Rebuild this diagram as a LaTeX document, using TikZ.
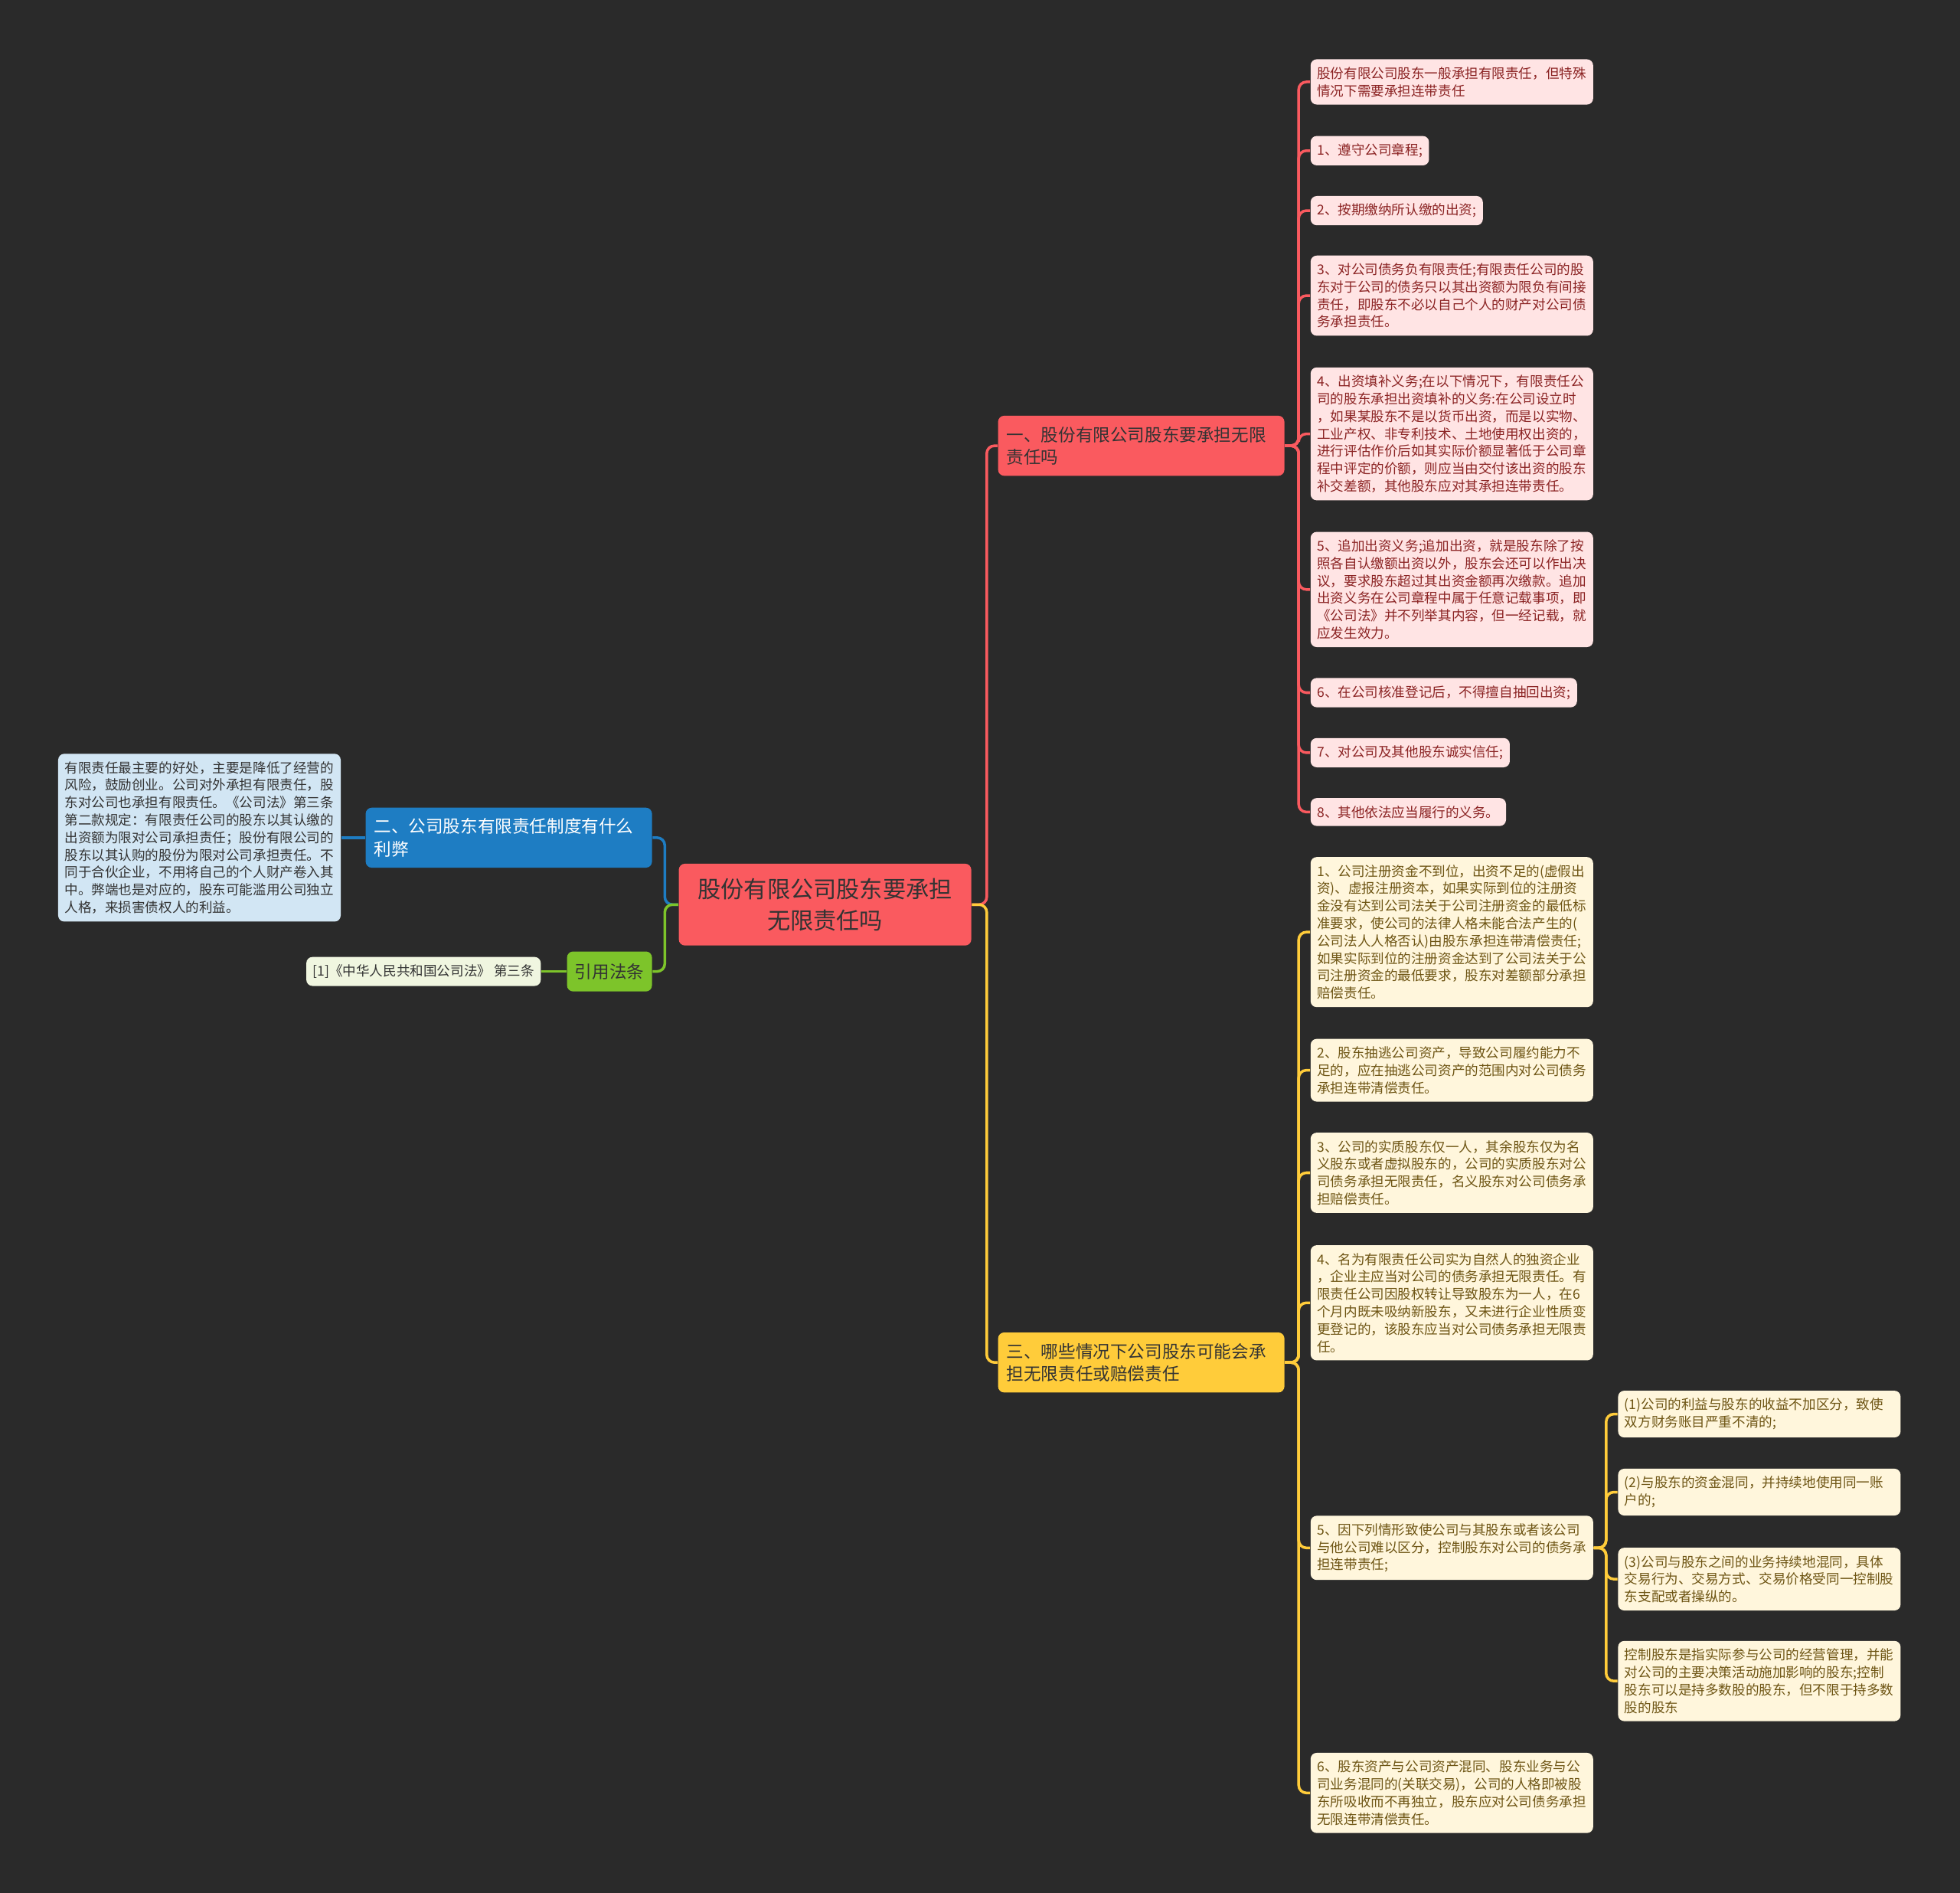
\documentclass[tikz,border=0pt]{standalone}
\usepackage{fontspec}
\setmainfont{Noto Sans CJK SC}
\definecolor{bgdark}{HTML}{2A2A2A}
\definecolor{mainred}{HTML}{FA5A5F}
\definecolor{mainblue}{HTML}{1E7DC3}
\definecolor{maingreen}{HTML}{7DC42A}
\definecolor{mainyellow}{HTML}{FFCC3A}
\definecolor{fillred}{HTML}{FFE4E4}
\definecolor{fillyellow}{HTML}{FFF6DC}
\definecolor{fillblue}{HTML}{D2E6F4}
\definecolor{fillgreen}{HTML}{F0F6E0}
\definecolor{textred}{HTML}{8B2323}
\definecolor{textyellow}{HTML}{6E5514}
\definecolor{textdark}{HTML}{333333}

\begin{document}
\begin{tikzpicture}
\tikzset{%
	leaf/.style = {rounded corners=.08cm, inner xsep=.085cm, inner ysep=.1cm, align=left, font=\fontsize{5pt}{6.49pt}\selectfont},
	wide/.style = {text width=3.52cm},
	redleaf/.style = {leaf, fill=fillred, text=textred, anchor=west},
	yelleaf/.style = {leaf, fill=fillyellow, text=textyellow, anchor=west},
	branch/.style = {rounded corners=.08cm, inner xsep=.11cm, inner ysep=.14cm, text width=3.52cm, align=left, font=\fontsize{6.43pt}{8.37pt}\selectfont},
	root/.style = {rounded corners=.08cm, inner xsep=.21cm, inner ysep=.19cm, text width=3.4cm, align=center, fill=mainred, text=textdark, font=\fontsize{8.6pt}{11.6pt}\selectfont},
	conr/.style = {draw=mainred, line width=1pt, rounded corners=.1cm},
	cony/.style = {draw=mainyellow, line width=1pt, rounded corners=.1cm},
	conb/.style = {draw=mainblue, line width=1pt, rounded corners=.1cm},
	cong/.style = {draw=maingreen, line width=1pt, rounded corners=.1cm}
}

% background
\fill[bgdark] (0,0) rectangle (25.6,-24.72);
\useasboundingbox (0,0) rectangle (25.6,-24.72);

% root and main branches
\draw node at (10.776,-11.813) [root] (c) {股份有限公司股东要承担\\无限责任吗};
\draw node at (13.029,-5.821) [branch, anchor=west, fill=mainred, text=textdark] (b1)
{一、股份有限公司股东要承担无限\\责任吗};
\draw node at (8.523,-10.939) [branch, anchor=east, fill=mainblue, text=white] (b2)
{二、公司股东有限责任制度有什么\\利弊};
\draw node at (8.523,-12.686) [anchor=east, rounded corners=.08cm, fill=maingreen, text=textdark, minimum width=1.11cm, minimum height=.522cm, inner sep=.1cm, font=\fontsize{6.43pt}{8.37pt}\selectfont] (law) {引用法条};
\draw node at (13.029,-17.792) [branch, anchor=west, fill=mainyellow, text=textdark] (b3)
{三、哪些情况下公司股东可能会承\\担无限责任或赔偿责任};

% left leaves
\draw node at (4.457,-10.939) [leaf, wide, anchor=east, fill=fillblue, text=textdark] (bl)
{有限责任最主要的好处，主要是降低了经营的\\风险，鼓励创业。公司对外承担有限责任，股\\东对公司也承担有限责任。《公司法》第三条\\第二款规定：有限责任公司的股东以其认缴的\\出资额为限对公司承担责任；股份有限公司的\\股东以其认购的股份为限对公司承担责任。不\\同于合伙企业，不用将自己的个人财产卷入其\\中。弊端也是对应的，股东可能滥用公司独立\\人格，来损害债权人的利益。};
\draw node at (7.07,-12.686) [leaf, anchor=east, fill=fillgreen, text=textdark] (gl)
{[1]《中华人民共和国公司法》 第三条};

% red leaves
\draw node at (17.111,-1.070) [redleaf, wide] (r0)
{股份有限公司股东一般承担有限责任，但特殊\\情况下需要承担连带责任};
\draw node at (17.111,-1.968) [redleaf] (r1) {1、遵守公司章程;};
\draw node at (17.111,-2.751) [redleaf] (r2) {2、按期缴纳所认缴的出资;};
\draw node at (17.111,-3.861) [redleaf, wide] (r3)
{3、对公司债务负有限责任;有限责任公司的股\\东对于公司的债务只以其出资额为限负有间接\\责任，即股东不必以自己个人的财产对公司债\\务承担责任。};
\draw node at (17.111,-5.666) [redleaf, wide] (r4)
{4、出资填补义务;在以下情况下，有限责任公\\司的股东承担出资填补的义务:在公司设立时\\，如果某股东不是以货币出资，而是以实物、\\工业产权、非专利技术、土地使用权出资的，\\进行评估作价后如其实际价额显著低于公司章\\程中评定的价额，则应当由交付该出资的股东\\补交差额，其他股东应对其承担连带责任。};
\draw node at (17.111,-7.698) [redleaf, wide] (r5)
{5、追加出资义务;追加出资，就是股东除了按\\照各自认缴额出资以外，股东会还可以作出决\\议，要求股东超过其出资金额再次缴款。追加\\出资义务在公司章程中属于任意记载事项，即\\《公司法》并不列举其内容，但一经记载，就\\应发生效力。};
\draw node at (17.111,-9.045) [redleaf] (r6) {6、在公司核准登记后，不得擅自抽回出资;};
\draw node at (17.111,-9.829) [redleaf] (r7) {7、对公司及其他股东诚实信任;};
\draw node at (17.111,-10.604) [redleaf] (r8) {8、其他依法应当履行的义务。};

% yellow leaves
\draw node at (17.111,-12.172) [yelleaf, wide] (y1)
{1、公司注册资金不到位，出资不足的(虚假出\\资)、虚报注册资本，如果实际到位的注册资\\金没有达到公司法关于公司注册资金的最低标\\准要求，使公司的法律人格未能合法产生的(\\公司法人人格否认)由股东承担连带清偿责任;\\如果实际到位的注册资金达到了公司法关于公\\司注册资金的最低要求，股东对差额部分承担\\赔偿责任。};
\draw node at (17.111,-13.976) [yelleaf, wide] (y2)
{2、股东抽逃公司资产，导致公司履约能力不\\足的，应在抽逃公司资产的范围内对公司债务\\承担连带清偿责任。};
\draw node at (17.111,-15.315) [yelleaf, wide] (y3)
{3、公司的实质股东仅一人，其余股东仅为名\\义股东或者虚拟股东的，公司的实质股东对公\\司债务承担无限责任，名义股东对公司债务承\\担赔偿责任。};
\draw node at (17.111,-17.013) [yelleaf, wide] (y4)
{4、名为有限责任公司实为自然人的独资企业\\，企业主应当对公司的债务承担无限责任。有\\限责任公司因股权转让导致股东为一人，在6\\个月内既未吸纳新股东，又未进行企业性质变\\更登记的，该股东应当对公司债务承担无限责\\任。};
\draw node at (17.111,-20.213) [yelleaf, wide] (y5)
{5、因下列情形致使公司与其股东或者该公司\\与他公司难以区分，控制股东对公司的债务承\\担连带责任;};
\draw node at (17.111,-23.413) [yelleaf, wide] (y6)
{6、股东资产与公司资产混同、股东业务与公\\司业务混同的(关联交易)，公司的人格即被股\\东所吸收而不再独立，股东应对公司债务承担\\无限连带清偿责任。};

% sub leaves of 5
\draw node at (21.127,-18.466) [yelleaf, wide] (s1)
{(1)公司的利益与股东的收益不加区分，致使\\双方财务账目严重不清的;};
\draw node at (21.127,-19.485) [yelleaf, wide] (s2)
{(2)与股东的资金混同，并持续地使用同一账\\户的;};
\draw node at (21.127,-20.621) [yelleaf, wide] (s3)
{(3)公司与股东之间的业务持续地混同，具体\\交易行为、交易方式、交易价格受同一控制股\\东支配或者操纵的。};
\draw node at (21.127,-21.952) [yelleaf, wide] (s4)
{控制股东是指实际参与公司的经营管理，并能\\对公司的主要决策活动施加影响的股东;控制\\股东可以是持多数股的股东，但不限于持多数\\股的股东};

% connectors
\draw[conr] (c.east) -- ++(.195,0) |- (b1.west);
\draw[cony] (c.east) -- ++(.195,0) |- (b3.west);
\draw[conb] (c.west) -- ++(-.176,0) |- (b2.east);
\draw[cong] (c.west) -- ++(-.176,0) |- (law.east);
\draw[conb] (b2.west) -- (bl.east);
\draw[cong] (law.west) -- (gl.east);

\draw[conr] (b1.east) -- ++(.179,0) |- (r0.west);
\draw[conr] (b1.east) -- ++(.179,0) |- (r1.west);
\draw[conr] (b1.east) -- ++(.179,0) |- (r2.west);
\draw[conr] (b1.east) -- ++(.179,0) |- (r3.west);
\draw[conr] (b1.east) -- ++(.179,0) |- (r4.west);
\draw[conr] (b1.east) -- ++(.179,0) |- (r5.west);
\draw[conr] (b1.east) -- ++(.179,0) |- (r6.west);
\draw[conr] (b1.east) -- ++(.179,0) |- (r7.west);
\draw[conr] (b1.east) -- ++(.179,0) |- (r8.west);

\draw[cony] (b3.east) -- ++(.179,0) |- (y1.west);
\draw[cony] (b3.east) -- ++(.179,0) |- (y2.west);
\draw[cony] (b3.east) -- ++(.179,0) |- (y3.west);
\draw[cony] (b3.east) -- ++(.179,0) |- (y4.west);
\draw[cony] (b3.east) -- ++(.179,0) |- (y5.west);
\draw[cony] (b3.east) -- ++(.179,0) |- (y6.west);

\draw[cony] (y5.east) -- ++(.163,0) |- (s1.west);
\draw[cony] (y5.east) -- ++(.163,0) |- (s2.west);
\draw[cony] (y5.east) -- ++(.163,0) |- (s3.west);
\draw[cony] (y5.east) -- ++(.163,0) |- (s4.west);

\end{tikzpicture}
\end{document}
